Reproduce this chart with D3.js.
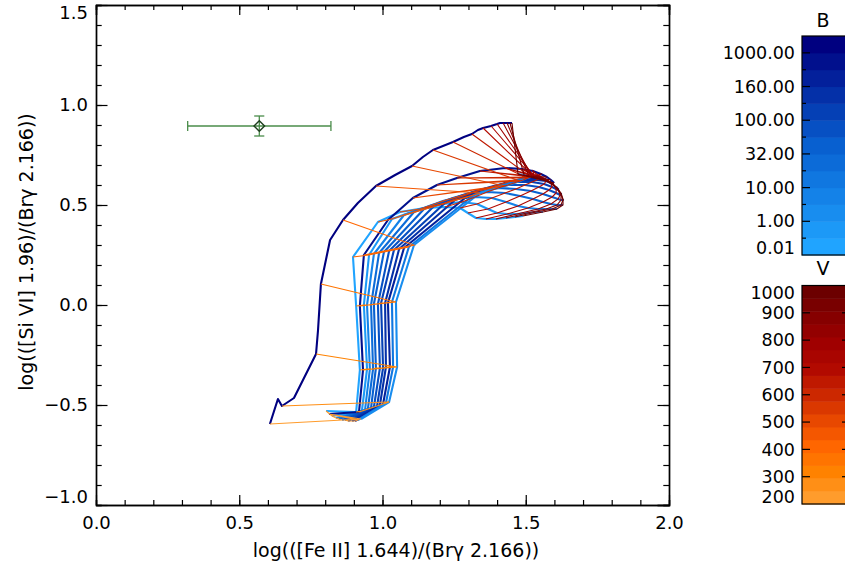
<!DOCTYPE html>
<html>
<head>
<meta charset="utf-8">
<script src="https://cdn.jsdelivr.net/npm/d3@7"></script>
<style>
  body { margin: 0; background: #fff; }
  svg { display: block; font-family: "DejaVu Sans", sans-serif; }
</style>
</head>
<body>
<svg id="chart" width="845" height="567"></svg>
<script>
"use strict";

// shock velocities (km/s) sampled along each magnetic-field track
const velocities = [200, 250, 300, 350, 400, 450, 500, 550, 600, 650, 700, 750, 800, 850, 900, 950, 1000];
const outerVelocities = [200, 225, 250, 275, 300, 325, 350, 375, 400, 425, 450, 475, 500, 525, 550, 575, 600,
                         625, 650, 675, 700, 725, 750, 775, 800, 825, 850, 875, 900, 925, 950, 975, 1000];

// colour-bar of the magnetic parameter
const bBandCount = 13;
const bLabels = ["0.01", "1.00", "10.00", "32.00", "100.00", "160.00", "1000.00"];
const bLabelBoundary = [0, 2, 4, 6, 8, 10, 12];
const vTickValues = [1000, 900, 800, 700, 600, 500, 400, 300, 200];

// colour band of each track, in the order the constant-V lines join them (last = outer track)
const curveBand = [0, 1, 3, 5, 6, 7, 8, 9, 10, 4, 11, 2, 12];

// log([Fe II]/Brg) along the tracks
const trackFe = [
  [0.803, 0.908, 0.921, 0.908, 0.897, 0.984, 1.061, 1.148, 1.218, 1.271, 1.298, 1.326, 1.361, 1.396, 1.431, 1.462, 1.490],
  [0.824, 0.928, 0.946, 0.935, 0.953, 1.033, 1.131, 1.211, 1.277, 1.330, 1.368, 1.400, 1.435, 1.469, 1.504, 1.536, 1.560],
  [0.838, 0.939, 0.956, 0.946, 0.970, 1.075, 1.173, 1.253, 1.323, 1.382, 1.431, 1.473, 1.508, 1.543, 1.571, 1.592, 1.609],
  [0.848, 0.949, 0.967, 0.960, 0.988, 1.110, 1.211, 1.291, 1.365, 1.428, 1.480, 1.525, 1.560, 1.588, 1.609, 1.623, 1.630],
  [0.859, 0.960, 0.977, 0.970, 1.005, 1.145, 1.246, 1.330, 1.403, 1.466, 1.518, 1.560, 1.592, 1.613, 1.623, 1.630, 1.630],
  [0.869, 0.970, 0.991, 0.984, 1.023, 1.180, 1.281, 1.365, 1.438, 1.497, 1.546, 1.581, 1.606, 1.620, 1.623, 1.623, 1.623],
  [0.880, 0.981, 1.002, 0.995, 1.040, 1.218, 1.316, 1.400, 1.469, 1.522, 1.564, 1.592, 1.606, 1.613, 1.613, 1.609, 1.606],
  [0.894, 0.991, 1.012, 1.009, 1.058, 1.253, 1.351, 1.428, 1.490, 1.539, 1.571, 1.588, 1.595, 1.595, 1.592, 1.585, 1.578],
  [0.904, 1.002, 1.026, 1.019, 1.075, 1.288, 1.382, 1.452, 1.508, 1.546, 1.567, 1.574, 1.574, 1.571, 1.564, 1.557, 1.550],
  [0.914, 1.012, 1.037, 1.033, 1.092, 1.319, 1.407, 1.469, 1.515, 1.543, 1.553, 1.553, 1.550, 1.546, 1.539, 1.532, 1.525],
  [0.813, 0.918, 0.932, 0.921, 0.935, 1.019, 1.106, 1.190, 1.260, 1.340, 1.428, 1.487, 1.525, 1.553, 1.574, 1.588, 1.599],
  [0.925, 1.023, 1.051, 1.047, 1.110, 1.340, 1.428, 1.480, 1.504, 1.518, 1.525, 1.529, 1.529, 1.522, 1.511, 1.494, 1.473]
];
// log([Si VI]/Brg) along the tracks
const trackSi = [
  [-0.530, -0.535, -0.325, -0.005, 0.240, 0.415, 0.465, 0.485, 0.490, 0.485, 0.460, 0.435, 0.430, 0.430, 0.435, 0.440, 0.445],
  [-0.555, -0.530, -0.320, 0.000, 0.250, 0.430, 0.480, 0.505, 0.515, 0.505, 0.480, 0.460, 0.455, 0.455, 0.460, 0.465, 0.465],
  [-0.565, -0.525, -0.320, 0.000, 0.255, 0.450, 0.500, 0.530, 0.540, 0.535, 0.515, 0.495, 0.485, 0.480, 0.480, 0.480, 0.480],
  [-0.570, -0.520, -0.320, 0.000, 0.260, 0.465, 0.520, 0.550, 0.565, 0.560, 0.545, 0.530, 0.515, 0.505, 0.500, 0.500, 0.500],
  [-0.575, -0.515, -0.315, 0.005, 0.265, 0.480, 0.535, 0.570, 0.585, 0.580, 0.570, 0.555, 0.540, 0.530, 0.525, 0.525, 0.530],
  [-0.575, -0.510, -0.315, 0.005, 0.270, 0.495, 0.550, 0.585, 0.600, 0.600, 0.590, 0.575, 0.560, 0.550, 0.550, 0.555, 0.560],
  [-0.580, -0.505, -0.315, 0.010, 0.275, 0.510, 0.565, 0.600, 0.615, 0.615, 0.605, 0.590, 0.580, 0.575, 0.580, 0.585, 0.590],
  [-0.580, -0.500, -0.310, 0.010, 0.280, 0.525, 0.575, 0.610, 0.625, 0.625, 0.620, 0.610, 0.605, 0.605, 0.610, 0.615, 0.615],
  [-0.580, -0.495, -0.310, 0.010, 0.285, 0.535, 0.585, 0.620, 0.635, 0.635, 0.630, 0.625, 0.625, 0.625, 0.630, 0.630, 0.630],
  [-0.575, -0.490, -0.310, 0.015, 0.290, 0.550, 0.595, 0.625, 0.640, 0.640, 0.640, 0.640, 0.640, 0.640, 0.640, 0.640, 0.640],
  [-0.545, -0.535, -0.325, -0.005, 0.250, 0.425, 0.535, 0.600, 0.635, 0.670, 0.685, 0.680, 0.670, 0.655, 0.640, 0.625, 0.610],
  [-0.570, -0.485, -0.310, 0.015, 0.300, 0.560, 0.595, 0.620, 0.635, 0.640, 0.645, 0.645, 0.640, 0.640, 0.645, 0.650, 0.655]
];
// outer track, sampled every 25 km/s
const outerFe = [0.607, 0.635, 0.649, 0.691, 0.768, 0.775, 0.785, 0.817, 0.862, 0.914, 0.977, 1.044, 1.103, 1.141, 1.176, 1.211, 1.246,
                 1.284, 1.312, 1.333, 1.351, 1.365, 1.379, 1.389, 1.400, 1.410, 1.421, 1.428, 1.435, 1.442, 1.445, 1.449, 1.452];
const outerSi = [-0.595, -0.470, -0.505, -0.465, -0.245, -0.125, 0.105, 0.325, 0.425, 0.510, 0.595, 0.650, 0.695, 0.740, 0.775, 0.795, 0.815,
                 0.840, 0.855, 0.875, 0.885, 0.890, 0.895, 0.900, 0.905, 0.910, 0.910, 0.910, 0.910, 0.910, 0.910, 0.910, 0.910];

// observed ratio with errors
const obsFe = [0.57];
const obsSi = [0.895];
const obsFeErr = [0.25];
const obsSiErr = [0.05];

const svg = d3.select("#chart");
const x = d3.scaleLinear().domain([0, 2]).range([96, 669]);
const y = d3.scaleLinear().domain([-1, 1.5]).range([505, 5]);

const bColor = d3.scaleLinear().domain([0, 6, 12]).range(["#20a4ff", "#0860d0", "#000080"]);
const vColor = d3.scaleLinear()
    .domain([200, 300, 400, 500, 600, 700, 800, 900, 1000])
    .range(["#ff9c2c", "#ff8200", "#ff6600", "#e84800", "#cc2800", "#b20a00", "#a00000", "#860000", "#6c0000"]);

// tracks of constant magnetic parameter
let curves = trackFe.map((row, k) => ({
    band: curveBand[k], v: velocities,
    pts: row.map((fe, j) => [fe, trackSi[k][j]])
}));
curves.push({ band: curveBand[12], v: outerVelocities, pts: outerFe.map((fe, j) => [fe, outerSi[j]]) });

const line = d3.line().x(p => x(p[0])).y(p => y(p[1]));

const plot = svg.append("g");
plot.selectAll("path.track")
    .data(curves)
    .join("path")
    .attr("class", "track")
    .attr("d", c => line(c.pts))
    .attr("fill", "none")
    .attr("stroke", c => bColor(c.band))
    .attr("stroke-width", 2.1)
    .attr("stroke-linejoin", "round");

// lines of constant velocity
const vLines = velocities.map(v => ({ v: v, pts: curves.map(c => c.pts[c.v.indexOf(v)]) }));
plot.selectAll("path.vline")
    .data(vLines)
    .join("path")
    .attr("class", "vline")
    .attr("d", d => line(d.pts))
    .attr("fill", "none")
    .attr("stroke", d => vColor(d.v))
    .attr("stroke-width", 1.1);

// observed point
const obs = obsFe.map((fe, i) => ({ fe: fe, si: obsSi[i], dfe: obsFeErr[i], dsi: obsSiErr[i] }));
const errColor = "#4a8c4a";
obs.forEach(o => {
    const g = plot.append("g").attr("stroke", errColor).attr("stroke-width", 1.3);
    g.append("line").attr("x1", x(o.fe - o.dfe)).attr("x2", x(o.fe + o.dfe)).attr("y1", y(o.si)).attr("y2", y(o.si));
    g.append("line").attr("x1", x(o.fe)).attr("x2", x(o.fe)).attr("y1", y(o.si - o.dsi)).attr("y2", y(o.si + o.dsi));
    [o.fe - o.dfe, o.fe + o.dfe].forEach(v => g.append("line")
        .attr("x1", x(v)).attr("x2", x(v)).attr("y1", y(o.si) - 5).attr("y2", y(o.si) + 5));
    [o.si - o.dsi, o.si + o.dsi].forEach(v => g.append("line")
        .attr("x1", x(o.fe) - 5).attr("x2", x(o.fe) + 5).attr("y1", y(v)).attr("y2", y(v)));
    plot.append("path")
        .attr("d", d3.symbol(d3.symbolSquare, 56)())
        .attr("transform", `translate(${x(o.fe)},${y(o.si)}) rotate(45)`)
        .attr("fill", "none")
        .attr("stroke", "#1f3f1f")
        .attr("stroke-width", 1.4);
});

// axes (ticks inward on all four sides)
function styleAxis(g) {
    g.attr("font-family", null).attr("font-size", 18);
    g.selectAll("line").attr("stroke", "#000").attr("stroke-width", 1.2);
    g.selectAll("path.domain").attr("stroke", "#000").attr("stroke-width", 1.4);
    g.selectAll("text").attr("fill", "#000");
}
const fmt = d3.format(".1f");
svg.append("g").attr("transform", `translate(0,${y(-1)})`)
    .call(d3.axisBottom(x).ticks(20).tickSize(-5).tickFormat("")).call(styleAxis);
svg.append("g").attr("transform", `translate(0,${y(-1)})`)
    .call(d3.axisBottom(x).ticks(4).tickSizeInner(-10).tickSizeOuter(0).tickPadding(11).tickFormat(fmt)).call(styleAxis);
svg.append("g").attr("transform", `translate(0,${y(1.5)})`)
    .call(d3.axisTop(x).ticks(20).tickSize(-5).tickFormat("")).call(styleAxis);
svg.append("g").attr("transform", `translate(0,${y(1.5)})`)
    .call(d3.axisTop(x).ticks(4).tickSize(-10).tickFormat("")).call(styleAxis);
svg.append("g").attr("transform", `translate(${x(0)},0)`)
    .call(d3.axisLeft(y).ticks(25).tickSize(-5.7).tickFormat("")).call(styleAxis);
const yAxis = svg.append("g").attr("transform", `translate(${x(0)},0)`)
    .call(d3.axisLeft(y).ticks(5).tickSizeInner(-11.5).tickSizeOuter(0).tickPadding(8).tickFormat(fmt)).call(styleAxis);
yAxis.selectAll("text").attr("y", d => d === 1.5 ? 8 : (d === -1 ? -8 : 0));
svg.append("g").attr("transform", `translate(${x(2)},0)`)
    .call(d3.axisRight(y).ticks(25).tickSize(-5.7).tickFormat("")).call(styleAxis);
svg.append("g").attr("transform", `translate(${x(2)},0)`)
    .call(d3.axisRight(y).ticks(5).tickSize(-11.5).tickFormat("")).call(styleAxis);

svg.append("text")
    .attr("x", 396).attr("y", 557)
    .attr("text-anchor", "middle").attr("font-size", 19)
    .text("log(([Fe II] 1.644)/(Brγ 2.166))");
svg.append("text")
    .attr("transform", "translate(33,252) rotate(-90)")
    .attr("text-anchor", "middle").attr("font-size", 19)
    .text("log(([Si VI] 1.96)/(Brγ 2.166))");

// colour bars
const barX = 802, barW = 48;
const bBar = d3.scaleLinear().domain([0, bBandCount]).range([255, 36]);
const cb = svg.append("g");
cb.selectAll("rect.bband")
    .data(d3.range(bBandCount))
    .join("rect")
    .attr("class", "bband")
    .attr("x", barX).attr("width", barW)
    .attr("y", i => bBar(i + 1)).attr("height", i => bBar(i) - bBar(i + 1) + 0.5)
    .attr("fill", i => bColor(i));
cb.append("rect").attr("x", barX).attr("y", bBar(bBandCount)).attr("width", barW)
    .attr("height", bBar(0) - bBar(bBandCount)).attr("fill", "none").attr("stroke", "#000").attr("stroke-width", 1.2);
cb.selectAll("line.btick")
    .data(d3.range(1, bBandCount))
    .join("line")
    .attr("class", "btick")
    .attr("x1", barX).attr("x2", i => barX + (bLabelBoundary.includes(i) ? 8 : 4))
    .attr("y1", i => bBar(i)).attr("y2", i => bBar(i))
    .attr("stroke", "#000").attr("stroke-width", 1.2);
cb.selectAll("text.blabel")
    .data(bLabels)
    .join("text")
    .attr("class", "blabel")
    .attr("x", barX - 7)
    .attr("y", (d, i) => Math.min(bBar(bLabelBoundary[i]), 248))
    .attr("dy", "0.35em")
    .attr("text-anchor", "end").attr("font-size", 17.5)
    .text(d => d);
cb.append("text").attr("x", 823).attr("y", 27).attr("text-anchor", "middle").attr("font-size", 19).text("B");

const vBar = d3.scaleLinear().domain([200, 1000]).range([504, 285.5]);
const vBand = d3.scaleLinear().domain([0, velocities.length]).range([504, 285.5]);
cb.selectAll("rect.vband")
    .data(velocities)
    .join("rect")
    .attr("class", "vband")
    .attr("x", barX).attr("width", barW)
    .attr("y", (v, i) => vBand(i + 1)).attr("height", (v, i) => vBand(i) - vBand(i + 1) + 0.5)
    .attr("fill", v => vColor(v));
cb.append("rect").attr("x", barX).attr("y", vBar(1000)).attr("width", barW)
    .attr("height", vBar(200) - vBar(1000)).attr("fill", "none").attr("stroke", "#000").attr("stroke-width", 1.2);
const innerV = vTickValues.filter(v => v > 200 && v < 1000);
cb.selectAll("line.vtickl")
    .data(innerV).join("line").attr("class", "vtickl")
    .attr("x1", barX).attr("x2", barX + 8).attr("y1", v => vBar(v)).attr("y2", v => vBar(v))
    .attr("stroke", "#000").attr("stroke-width", 1.2);
cb.selectAll("line.vtickr")
    .data(innerV).join("line").attr("class", "vtickr")
    .attr("x1", barX + barW).attr("x2", barX + barW - 8).attr("y1", v => vBar(v)).attr("y2", v => vBar(v))
    .attr("stroke", "#000").attr("stroke-width", 1.2);
cb.selectAll("text.vlabel")
    .data(vTickValues)
    .join("text")
    .attr("class", "vlabel")
    .attr("x", barX - 7)
    .attr("y", v => Math.max(293, Math.min(vBar(v), 497)))
    .attr("dy", "0.35em")
    .attr("text-anchor", "end").attr("font-size", 17.5)
    .text(v => v);
cb.append("text").attr("x", 823).attr("y", 275).attr("text-anchor", "middle").attr("font-size", 19).text("V");
</script>
</body>
</html>
